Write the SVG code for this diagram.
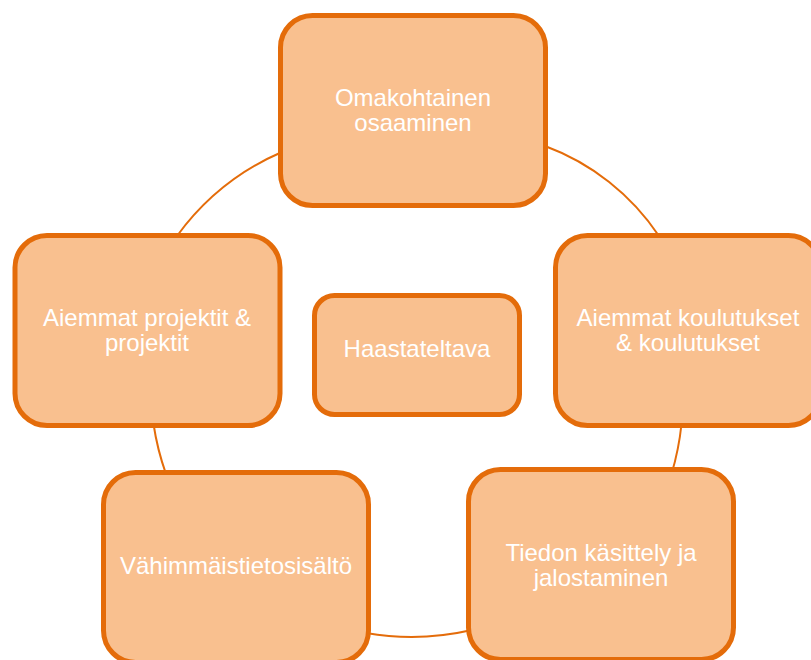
<svg xmlns="http://www.w3.org/2000/svg" width="811" height="660" viewBox="0 0 811 660">
  <style>
    .node { fill: #F9C08F; stroke: #E46C0A; stroke-width: 5; }
    .arc { fill: none; stroke: #E46C0A; stroke-width: 2; }
    .label { font-family: "Liberation Sans", Arial, sans-serif; font-size: 24px; fill: #FFFFFF; text-anchor: middle; }
  </style>
  <rect width="811" height="660" fill="#FFFFFF"/>
  <g id="connectors">
    <path class="arc" d="M177,236 A255,255 0 0 1 282,152"/>
    <path class="arc" d="M545,146 A235,235 0 0 1 659,236"/>
    <path class="arc" d="M681.5,424 A270,270 0 0 1 671.5,474"/>
    <path class="arc" d="M472,630 A270,270 0 0 1 366,633"/>
    <path class="arc" d="M166,474 A270,270 0 0 1 153.5,424"/>
  </g>
  <g id="node-omakohtainen">
    <rect class="node" x="280.5" y="15.5" width="265" height="190" rx="32"/>
    <text class="label" x="413" y="106">Omakohtainen</text>
    <text class="label" x="413" y="131">osaaminen</text>
  </g>
  <g id="node-projektit">
    <rect class="node" x="15" y="235.5" width="265" height="190" rx="32"/>
    <text class="label" x="147" y="326">Aiemmat projektit &amp;</text>
    <text class="label" x="147" y="351">projektit</text>
  </g>
  <g id="node-koulutukset">
    <rect class="node" x="555.5" y="235.5" width="265" height="190" rx="32"/>
    <text class="label" x="688" y="326">Aiemmat koulutukset</text>
    <text class="label" x="688" y="351">&amp; koulutukset</text>
  </g>
  <g id="node-vahimmais">
    <rect class="node" x="103.5" y="472.5" width="265" height="190" rx="32"/>
    <text class="label" x="236" y="574">Vähimmäistietosisältö</text>
  </g>
  <g id="node-tiedon">
    <rect class="node" x="468.5" y="469.5" width="265" height="190" rx="32"/>
    <text class="label" x="601" y="561">Tiedon käsittely ja</text>
    <text class="label" x="601" y="586">jalostaminen</text>
  </g>
  <g id="node-haastateltava">
    <rect class="node" x="314.5" y="295.5" width="205" height="119" rx="20"/>
    <text class="label" x="417" y="357">Haastateltava</text>
  </g>
</svg>
